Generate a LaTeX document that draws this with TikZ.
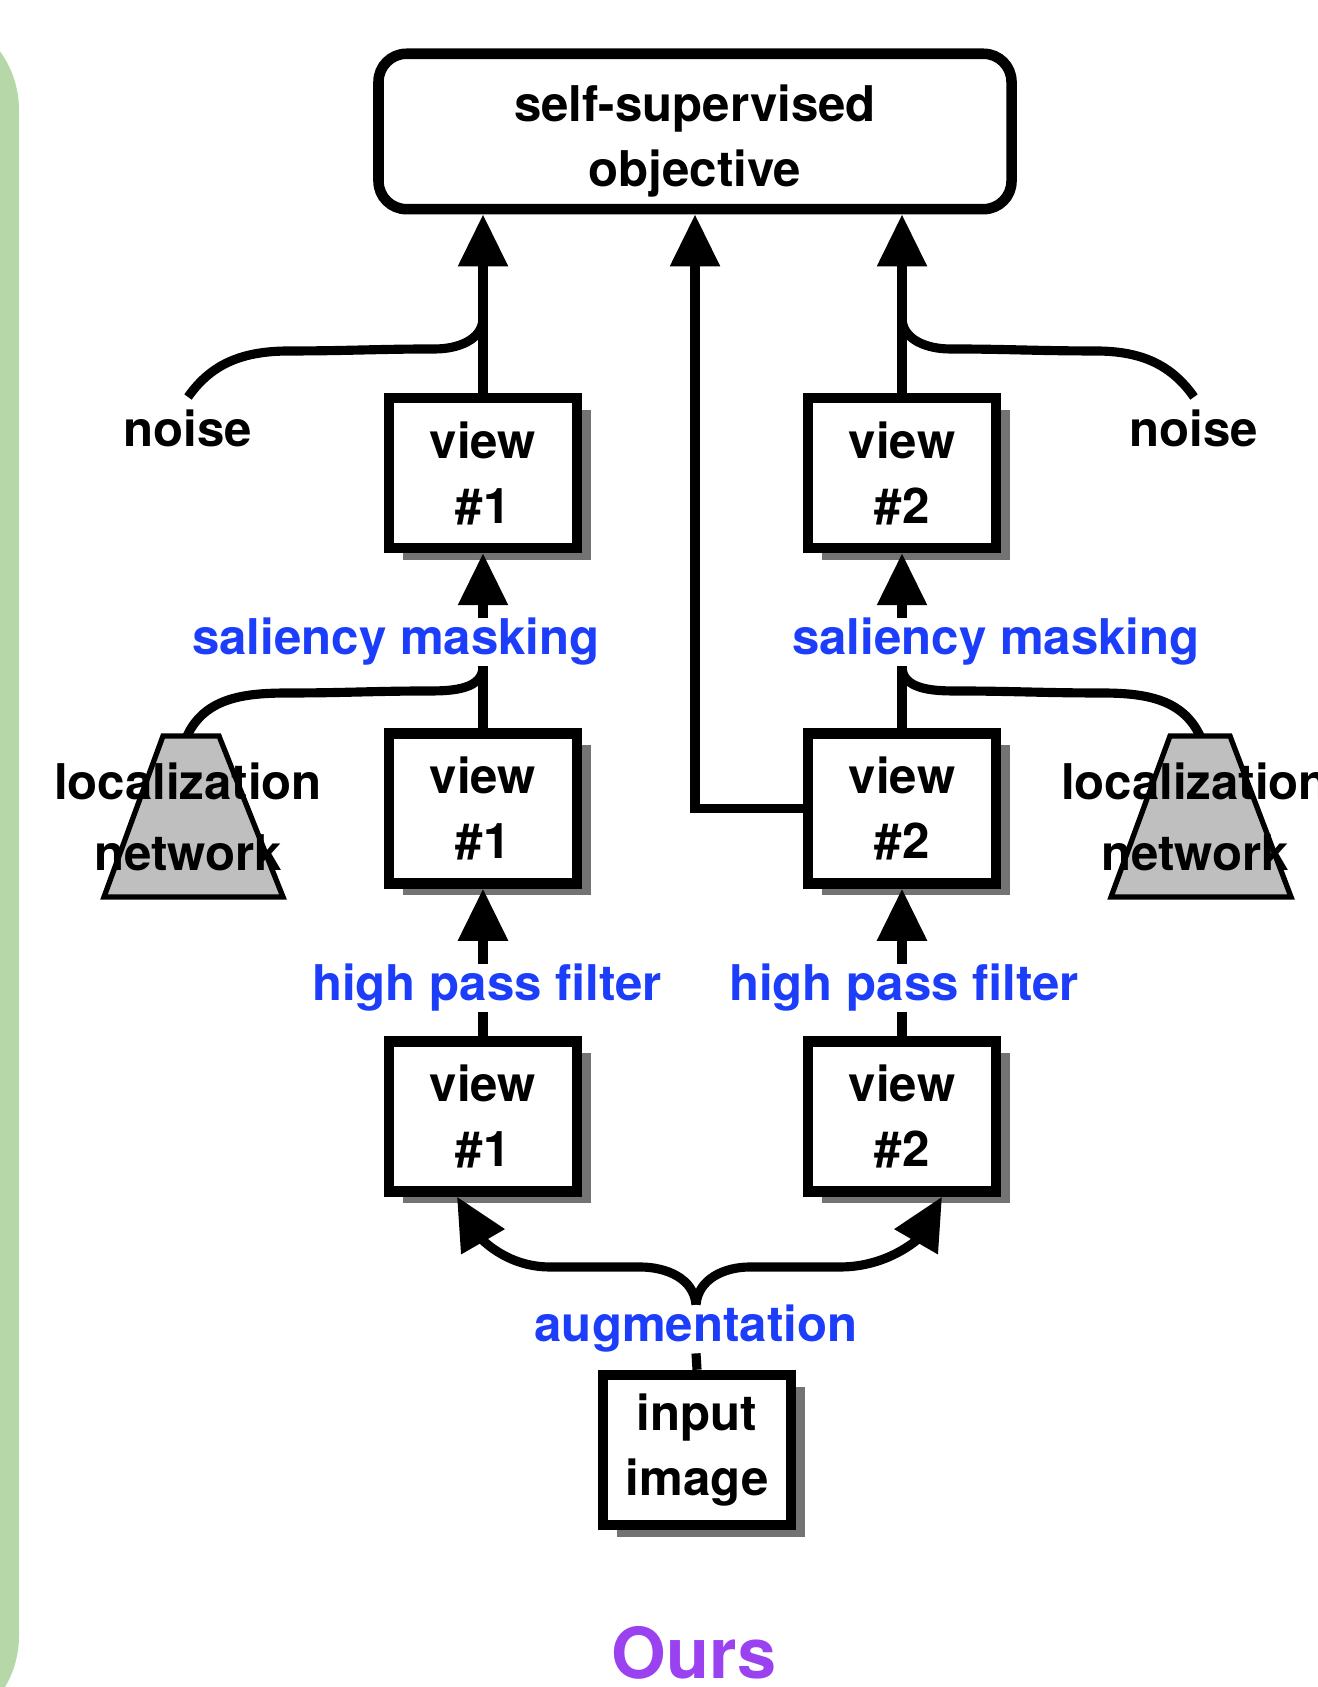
\documentclass[tikz,border=0pt]{standalone}
\usepackage{fontspec}
\setmainfont{TeX Gyre Heros}
\usetikzlibrary{arrows.meta,shadows}
\definecolor{panelgreen}{RGB}{182,215,168}
\definecolor{opblue}{RGB}{28,62,250}
\definecolor{ourspurple}{RGB}{155,66,240}

\begin{document}
\begin{tikzpicture}[every node/.style={font=\bfseries\fontsize{14}{18.5}\selectfont, align=center},
  viewbox/.style={draw, line width=3pt, fill=white, minimum width=1.88cm, minimum height=1.50cm, inner sep=0pt,
    drop shadow={shadow xshift=0.14cm, shadow yshift=-0.12cm, fill=black!55, opacity=1}},
  goalbox/.style={draw, line width=3pt, fill=white, rounded corners=0.28cm, minimum width=6.33cm, minimum height=1.35cm},
  locnet/.style={draw, line width=1.5pt, fill=black!25, line join=miter},
  op/.style={text=opblue, inner sep=0pt},
  link/.style={line width=2.6pt},
  flow/.style={link, -{Triangle[length=5.2mm, width=4.8mm]}}]
\useasboundingbox (0,0) rectangle (13.17,16.87);
\fill[panelgreen, rounded corners=1cm] (-2,-0.49) rectangle (0.19,16.77);

% Objective
\node[goalbox] (obj) at (6.95,15.555) {\rule{0pt}{16pt}self-supervised\\objective};

% View #1 column
\node[viewbox] (v1t) at (4.83,12.14) {view\\\#1};
\node[viewbox] (v1m) at (4.83,8.785) {view\\\#1};
\node[viewbox] (v1b) at (4.83,5.705) {view\\\#1};

% View #2 column
\node[viewbox] (v2t) at (9.02,12.14) {view\\\#2};
\node[viewbox] (v2m) at (9.02,8.785) {view\\\#2};
\node[viewbox] (v2b) at (9.02,5.705) {view\\\#2};

% Input
\node[viewbox] (img) at (6.97,2.37) {input\\image};

% Operations
\node[op] (sal1) at (3.96,10.45) {saliency masking};
\node[op] (sal2) at (9.96,10.45) {saliency masking};
\node[op] (hpf1) at (4.87,6.99) {high pass filter};
\node[op] (hpf2) at (9.04,6.99) {high pass filter};
\node[op] (aug) at (6.96,3.58) {augmentation};
\node (noise1) at (1.88,12.59) {noise};
\node (noise2) at (11.94,12.59) {noise};

% Localization networks
\draw[locnet] (1.04,7.90) -- (1.63,9.51) -- (2.19,9.51) -- (2.83,7.90) -- cycle;
\draw[locnet] (11.11,7.90) -- (11.70,9.51) -- (12.30,9.51) -- (12.91,7.90) -- cycle;
\coordinate (loc1) at (1.87,9.51);
\coordinate (loc2) at (12.0,9.51);
\node[font=\bfseries\fontsize{14}{20}\selectfont] (loc1txt) at (1.88,8.70) {localization\\network};
\node[font=\bfseries\fontsize{14}{20}\selectfont] (loc2txt) at (11.95,8.70) {localization\\network};

\node[text=ourspurple, font=\bfseries\fontsize{20}{24}\selectfont] (ours) at (6.94,0.34) {Ours};

% Into the objective
\coordinate (j1) at ([yshift=7.5mm]v1t.north);
\coordinate (j2) at ([yshift=7.5mm]v2t.north);
\draw[flow] (v1t.north) -- (v1t.north |- obj.south);
\draw[flow] (v2t.north) -- (v2t.north |- obj.south);
\draw[flow] (v2m.west) -| (obj.south);
\draw[link] (noise1.north) to[out=55,in=180] (2.9,13.36) to[out=0,in=180] (4.35,13.38) to[out=0,in=-90] (j1);
\draw[link] (noise2.north) to[out=125,in=0] (10.95,13.36) to[out=180,in=0] (9.5,13.38) to[out=180,in=-90] (j2);

% Saliency masking
\coordinate (k1) at (v1m.north |- sal1.south);
\coordinate (k2) at (v2m.north |- sal2.south);
\draw[link] (v1m.north) -- (k1);
\draw[link] (v2m.north) -- (k2);
\draw[flow] (v1t.south |- sal1.north) -- (v1t.south);
\draw[flow] (v2t.south |- sal2.north) -- (v2t.south);
\draw[link] (loc1) to[out=65,in=180] (2.9,9.94) to[out=0,in=180] (4.3,9.96) to[out=0,in=-90] (k1);
\draw[link] (loc2) to[out=115,in=0] (11.0,9.94) to[out=180,in=0] (9.55,9.96) to[out=180,in=-90] (k2);

% High pass filter
\draw[link] (v1b.north) -- (v1b.north |- hpf1.south);
\draw[link] (v2b.north) -- (v2b.north |- hpf2.south);
\draw[flow] (v1m.south |- hpf1.north) -- (v1m.south);
\draw[flow] (v2m.south |- hpf2.north) -- (v2m.south);

% Augmentation
\draw[link] (img.north) -- (aug.south);
\draw[flow] (aug.north) to[out=95,in=0] (6.4,4.2) to[out=180,in=0] (5.5,4.2) to[out=180,in=-60] ([xshift=-2.6mm]v1b.south);
\draw[flow] (aug.north) to[out=85,in=180] (7.5,4.2) to[out=0,in=180] (8.4,4.2) to[out=0,in=-120] ([xshift=4mm]v2b.south);
\end{tikzpicture}
\end{document}
